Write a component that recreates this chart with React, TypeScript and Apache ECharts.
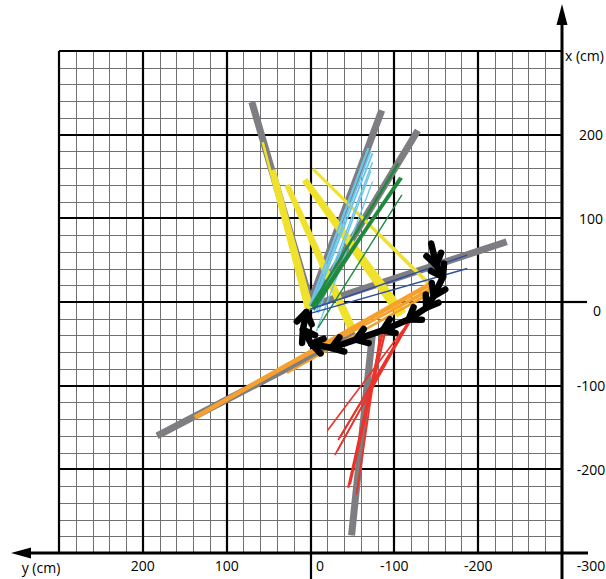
import { useEffect, useRef } from "react";
import * as echarts from "echarts";

// Axis range and grid spacing (cm)
const AXIS_MIN = -300;
const AXIS_MAX = 300;
const MAJOR_STEP = 100;
const MINOR_STEP = 20;

// Tick labels: vertical axis is x (cm), horizontal axis is y (cm), positive to the left.
// The corner label "-300" is shared by both axes.
const xTickLabels = ["200", "100", "0", "-100", "-200"];
const yTickLabels = ["200", "100", "0", "-100", "-200", "-300"];

// Each segment is [y0, x0, y1, x1] in cm
const graySegs = [
  [0, 0, 70, 239],
  [0, 0, -85, 229],
  [-4, 0, -128, 205],
  [0, -5, -234, 72],
  [-53, -37, 183, -160],
  [-74, -37, -49, -279],
];

const yellowSegs = [
  [57, 191, 4, -9],
  [45, 158, 1, -10],
  [28, 140, -51, -36],
  [7, 146, -109, -15],
  [-3, 159, -142, 21],
];

const lightBlueSegs = [
  [1, -5, -69, 184],
  [-2, -4, -72, 181],
  [-3, -6, -74, 178],
  [-7, -11, -74, 167],
  [-9, -13, -72, 157],
  [-7, -35, -74, 144],
];

const greenSegs = [
  [-1, -5, -105, 166],
  [-2, -6, -107, 149],
  [-3, -7, -109, 148],
  [-4, -10, -104, 143],
  [-9, -31, -109, 128],
];

const darkBlueSegs = [
  [1, -9, -187, 56],
  [-2, -13, -187, 40],
];

const orangeSegs = [
  [-142, 21, 138, -138],
  [-145, 15, 63, -95],
  [-144, 12, 28, -85],
  [-142, 16, -41, -41],
  [-140, 8, -49, -42],
];

const redSegs = [
  [-121, -19, -20, -154],
  [-119, -23, -33, -165],
  [-116, -25, -35, -162],
  [-119, -22, -29, -183],
  [-115, -27, -32, -178],
  [-86, -37, -45, -222],
  [-89, -36, -47, -218],
  [-83, -40, -55, -230],
];

// Trajectory, [y, x] in cm, drawn as chained arrows
const pathPoints = [
  [-144, 70],
  [-150, 44],
  [-158, 30],
  [-147, 7],
  [-138, -7],
  [-117, -21],
  [-86, -34],
  [-54, -45],
  [-25, -55],
  [-1, -50],
  [9, -33],
  [5, -12],
];

// Stroke widths (px): start and end, so strokes can taper
const grayW0 = [7, 7, 7, 7, 7, 7];
const grayW1 = [7, 7, 7, 7, 7, 7];
const yellowW0 = [2.5, 5.5, 5.5, 6.5, 3];
const yellowW1 = [3.5, 8.5, 8.5, 10.5, 4];
const lightBlueW = [2.2, 1.8, 1.8, 1.5, 1.5, 1.3];
const greenW = [2.6, 2.2, 2.2, 1.8, 1.4];
const darkBlueW = [1.5, 1.5];
const orangeW0 = [4.5, 2.2, 1.8, 1.8, 1.8];
const redW = [1.6, 1.9, 1.9, 1.7, 1.7, 2.2, 2.2, 1.9];

const FONT = '14px "Open Sans", "Noto Sans", sans-serif';

function segmentSeries(
  name: string,
  segs: number[][],
  color: string,
  w0: number[],
  w1: number[],
  z: number
) {
  return {
    type: "custom",
    name,
    coordinateSystem: "cartesian2d",
    z,
    silent: true,
    clip: false,
    data: segs,
    encode: { x: [0, 2], y: [1, 3] },
    renderItem: (params: any, api: any) => {
      const p0 = api.coord([api.value(0), api.value(1)]);
      const p1 = api.coord([api.value(2), api.value(3)]);
      const dx = p1[0] - p0[0];
      const dy = p1[1] - p0[1];
      const len = Math.hypot(dx, dy) || 1;
      const nx = -dy / len;
      const ny = dx / len;
      const a = w0[params.dataIndex] / 2;
      const b = w1[params.dataIndex] / 2;
      return {
        type: "polygon",
        shape: {
          points: [
            [p0[0] + nx * a, p0[1] + ny * a],
            [p1[0] + nx * b, p1[1] + ny * b],
            [p1[0] - nx * b, p1[1] - ny * b],
            [p0[0] - nx * a, p0[1] - ny * a],
          ],
        },
        style: { fill: color },
      };
    },
  };
}

function arrowSeries(points: number[][], z: number) {
  const segs = points.slice(0, -1).map((p, i) => [p[0], p[1], points[i + 1][0], points[i + 1][1]]);
  return {
    type: "custom",
    name: "path",
    coordinateSystem: "cartesian2d",
    z,
    silent: true,
    clip: false,
    data: segs,
    encode: { x: [0, 2], y: [1, 3] },
    renderItem: (_params: any, api: any) => {
      const p0 = api.coord([api.value(0), api.value(1)]);
      const p1 = api.coord([api.value(2), api.value(3)]);
      const dx = p1[0] - p0[0];
      const dy = p1[1] - p0[1];
      const len = Math.hypot(dx, dy) || 1;
      const ux = dx / len;
      const uy = dy / len;
      const nx = -uy;
      const ny = ux;
      const L = 11;
      const W = 7.5;
      const stroke = { stroke: "#000", lineWidth: 6.5, lineCap: "round", lineJoin: "round", fill: "none" };
      return {
        type: "group",
        children: [
          { type: "line", shape: { x1: p0[0], y1: p0[1], x2: p1[0], y2: p1[1] }, style: stroke },
          {
            type: "polyline",
            shape: {
              points: [
                [p1[0] - ux * L + nx * W, p1[1] - uy * L + ny * W],
                [p1[0], p1[1]],
                [p1[0] - ux * L - nx * W, p1[1] - uy * L - ny * W],
              ],
            },
            style: stroke,
          },
        ],
      };
    },
  };
}

function valueAxis(position: string, inverse: boolean) {
  return {
    type: "value",
    min: AXIS_MIN,
    max: AXIS_MAX,
    interval: MAJOR_STEP,
    inverse,
    position,
    axisLine: { show: false },
    axisTick: { show: false },
    axisLabel: { show: false },
    splitLine: { show: false },
  };
}

export default function App() {
  const ref = useRef<HTMLDivElement>(null);

  useEffect(() => {
    if (!ref.current) return;
    const chart = echarts.init(ref.current, null, { renderer: "svg" });
    chart.setOption({
      animation: false,
      backgroundColor: "#fff",
      grid: { left: 59, top: 51, width: 503, height: 502 },
      xAxis: valueAxis("bottom", true),
      yAxis: valueAxis("right", false),
      series: [
        segmentSeries("gray", graySegs, "#7d7d82", grayW0, grayW1, 2),
        segmentSeries("yellow", yellowSegs, "#F0E22C", yellowW0, yellowW1, 3),
        segmentSeries("lightblue", lightBlueSegs, "#6CC6EC", lightBlueW, lightBlueW, 4),
        segmentSeries("green", greenSegs, "#1F8A3E", greenW, greenW, 5),
        segmentSeries("darkblue", darkBlueSegs, "#2F4EA2", darkBlueW, darkBlueW, 6),
        segmentSeries("orange", orangeSegs, "#F7A02C", orangeW0, orangeW0, 7),
        segmentSeries("red", redSegs, "#EC3329", redW, redW, 8),
        arrowSeries(pathPoints, 10),
      ],
    });

    const toPx = (h: number, v: number) => chart.convertToPixel({ gridIndex: 0 }, [h, v]) as number[];
    const [xLeft, yTop] = toPx(AXIS_MAX, AXIS_MAX);
    const [xRight, yBottom] = toPx(AXIS_MIN, AXIS_MIN);
    const [xZero, yZero] = toPx(0, 0);

    const graphic: any[] = [];

    // Millimetre-paper grid: thin grey every 20 cm, heavy black every 100 cm
    const gridLine = (v: number, major: boolean) => {
      const px = toPx(v, 0)[0];
      const py = toPx(0, v)[1];
      const snap = (p: number) => (major ? Math.round(p) : Math.round(p) + 0.5);
      const style = major ? { stroke: "#000", lineWidth: 2.2 } : { stroke: "#707070", lineWidth: 1 };
      graphic.push({ type: "line", z: 0, silent: true, shape: { x1: snap(px), y1: yTop, x2: snap(px), y2: yBottom }, style });
      graphic.push({ type: "line", z: 0, silent: true, shape: { x1: xLeft, y1: snap(py), x2: xRight, y2: snap(py) }, style });
    };
    for (let v = AXIS_MIN; v <= AXIS_MAX; v += MINOR_STEP) {
      if (v % MAJOR_STEP !== 0) gridLine(v, false);
    }
    for (let v = AXIS_MIN; v <= AXIS_MAX; v += MAJOR_STEP) gridLine(v, true);

    // Axes with arrows
    const axisStroke = { stroke: "#000", lineWidth: 3 };
    const text = (t: string, x: number, y: number, align: string) => ({
      type: "text",
      x,
      y,
      z: 20,
      style: {
        text: t,
        font: FONT,
        fill: "#000",
        align,
        textAlign: align,
        verticalAlign: "middle",
        textVerticalAlign: "middle",
      },
    });

    graphic.push(
      { type: "line", z: 20, shape: { x1: 28, y1: yBottom, x2: 588, y2: yBottom }, style: axisStroke },
      { type: "polygon", z: 20, shape: { points: [[11, yBottom], [31, yBottom - 5.5], [31, yBottom + 5.5]] }, style: { fill: "#000" } },
      { type: "line", z: 20, shape: { x1: xRight, y1: 22, x2: xRight, y2: 579 }, style: axisStroke },
      { type: "polygon", z: 20, shape: { points: [[xRight, 4], [xRight - 5.5, 25], [xRight + 5.5, 25]] }, style: { fill: "#000" } },
      { type: "line", z: 20, shape: { x1: xRight, y1: Math.round(yZero), x2: 587, y2: Math.round(yZero) }, style: { stroke: "#000", lineWidth: 2.2 } },
      { type: "line", z: 20, shape: { x1: Math.round(xZero), y1: yBottom, x2: Math.round(xZero), y2: 579 }, style: { stroke: "#000", lineWidth: 2.2 } },
      text("x (cm)", xRight + 3, 55, "left"),
      text("y (cm)", 41, 567, "center")
    );

    xTickLabels.forEach((t) => {
      const v = Number(t);
      const py = toPx(0, v)[1];
      const dy = v === 0 ? 8 : 0;
      const dx = v === 0 ? 6 : 0;
      graphic.push(text(t, xRight + 29 + dx, py + dy, "center"));
    });
    yTickLabels.forEach((t) => {
      const h = Number(t);
      const px = toPx(h, 0)[0];
      const dx = h === 0 ? 9.5 : h === AXIS_MIN ? 29 : 0;
      graphic.push(text(t, px + dx, yBottom + 12, "center"));
    });

    chart.setOption({ graphic });

    return () => chart.dispose();
  }, []);

  return (
    <div
      ref={ref}
      style={{ position: "fixed", left: 0, top: 0, width: 606, height: 579, background: "#fff" }}
    />
  );
}
